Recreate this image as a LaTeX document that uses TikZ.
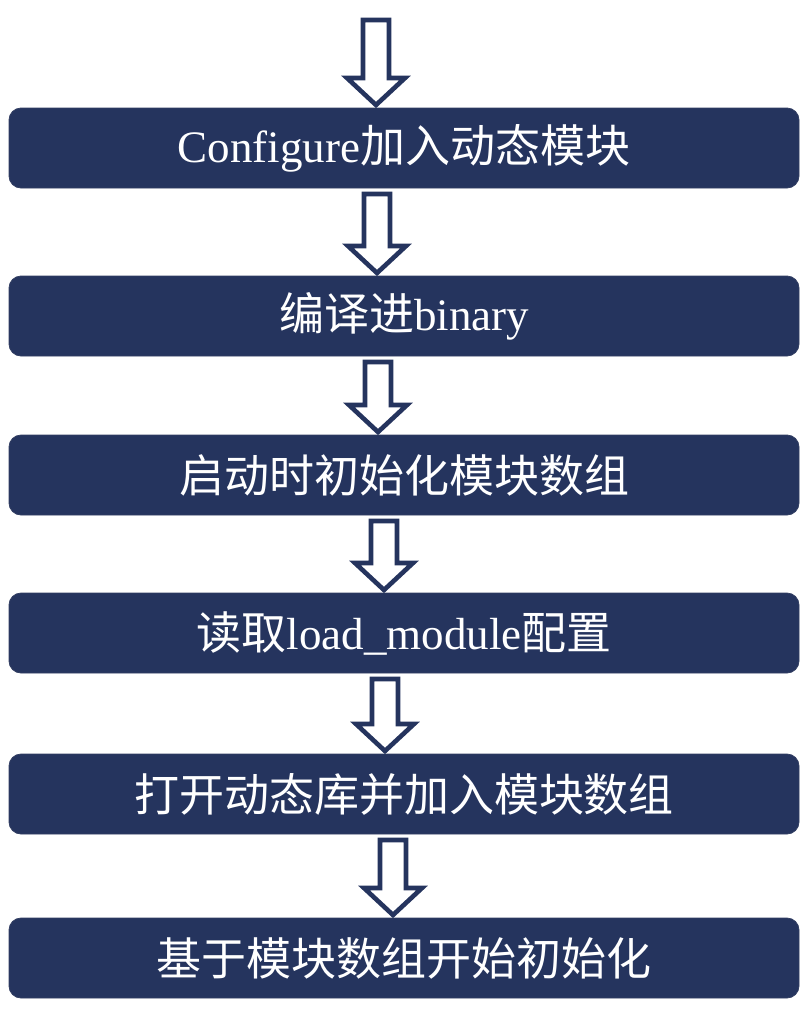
\documentclass[tikz,border=0pt]{standalone}
\usepackage{fontspec}
\setmainfont{Liberation Serif}
\newfontfamily\cjk{Noto Sans CJK SC}
\usepackage{xcolor}
\usetikzlibrary{positioning,calc}
\definecolor{navy}{RGB}{37,52,94}

% hollow block arrow between two anchor points, shifted sideways by #3
\newcommand{\hollowarrow}[3]{%
  \draw[hollow] let \p1=($(#1)+(#3,0)$), \p2=(#2) in
    (\x1-13pt,\y1-6pt) -- (\x1+13pt,\y1-6pt) -- (\x1+13pt,\y2+30pt)
    -- (\x1+29pt,\y2+30pt) -- (\x1,\y2+3pt) -- (\x1-29pt,\y2+30pt)
    -- (\x1-13pt,\y2+30pt) -- cycle;}

\begin{document}
\begin{tikzpicture}[x=1pt,y=1pt,
    stage/.style={rectangle,rounded corners=12pt,fill=navy,draw=navy!85!gray,
      line width=0.8pt,minimum width=790pt,minimum height=80pt,outer sep=0pt,
      text=white,font=\fontsize{45}{50}\selectfont},
    hollow/.style={draw=navy,fill=white,line width=4.6pt,line join=miter}]
  \useasboundingbox (0,0) rectangle (808,-1010);

  \coordinate (start) at (376,-14);
  \node[stage] (configure) at (404,-148) {Configure{\cjk 加入动态模块}};
  \node[stage,below=88pt of configure] (compile) {{\cjk 编译进}binary};
  \node[stage,below=79pt of compile] (initarray) {\cjk 启动时初始化模块数组};
  \node[stage,below=78pt of initarray] (readconf) {{\cjk 读取}load\_module{\cjk 配置}};
  \node[stage,below=81pt of readconf] (openlib) {\cjk 打开动态库并加入模块数组};
  \node[stage,below=84pt of openlib] (startinit) {\cjk 基于模块数组开始初始化};

  \hollowarrow{start}{configure.north}{0}
  \hollowarrow{configure.south}{compile.north}{-27}
  \hollowarrow{compile.south}{initarray.north}{-26}
  \hollowarrow{initarray.south}{readconf.north}{-20}
  \hollowarrow{readconf.south}{openlib.north}{-19}
  \hollowarrow{openlib.south}{startinit.north}{-11}
\end{tikzpicture}
\end{document}
